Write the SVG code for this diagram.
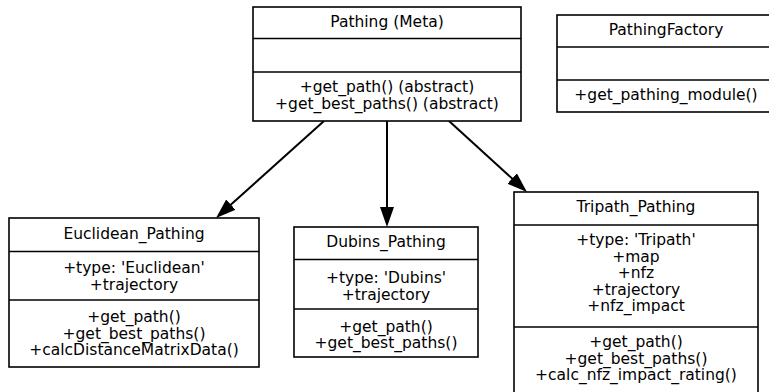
<svg xmlns="http://www.w3.org/2000/svg" width="769" height="392" viewBox="0 0 769 392">
<defs>
<style>
.box{fill:#fff;stroke:#000;stroke-width:1.6}
.div{stroke:#000;stroke-width:1.6}
text{font-family:"DejaVu Sans",sans-serif;font-size:15.5px;fill:#000;text-anchor:middle}
.edge{stroke:#000;stroke-width:2;fill:none}
</style>
<marker id="arr" markerUnits="userSpaceOnUse" markerWidth="20" markerHeight="14" refX="16" refY="7" orient="auto" viewBox="0 0 20 14">
<path d="M0,0 L20,7 L0,14 z" fill="#000"/>
</marker>
</defs>
<rect width="769" height="392" fill="#fff"/>
<g id="edges">
<line class="edge" x1="324" y1="121" x2="219" y2="215.3" marker-end="url(#arr)"/>
<line class="edge" x1="387" y1="121" x2="387" y2="223" marker-end="url(#arr)"/>
<line class="edge" x1="449" y1="121" x2="524" y2="189.3" marker-end="url(#arr)"/>
</g>
<g id="pathing_meta">
<rect class="box" x="253" y="7" width="268" height="114"/>
<line class="div" x1="253" y1="38.5" x2="521" y2="38.5"/>
<line class="div" x1="253" y1="72" x2="521" y2="72"/>
<text x="387" y="27">Pathing (Meta)</text>
<text x="387" y="92">+get_path() (abstract)</text>
<text x="387" y="108.5">+get_best_paths() (abstract)</text>
</g>
<g id="pathing_factory">
<rect class="box" x="557" y="15" width="220" height="97"/>
<line class="div" x1="557" y1="47" x2="777" y2="47"/>
<line class="div" x1="557" y1="80" x2="777" y2="80"/>
<text x="666" y="35">PathingFactory</text>
<text x="666" y="100">+get_pathing_module()</text>
</g>
<g id="euclidean">
<rect class="box" x="9" y="218" width="250" height="149"/>
<line class="div" x1="9" y1="251.5" x2="259" y2="251.5"/>
<line class="div" x1="9" y1="300" x2="259" y2="300"/>
<text x="134" y="238.5">Euclidean_Pathing</text>
<text x="134" y="273">+type: 'Euclidean'</text>
<text x="134" y="289.5">+trajectory</text>
<text x="134" y="322">+get_path()</text>
<text x="134" y="338.5">+get_best_paths()</text>
<text x="134" y="355">+calcDistanceMatrixData()</text>
</g>
<g id="dubins">
<rect class="box" x="294" y="227" width="184" height="130"/>
<line class="div" x1="294" y1="259.5" x2="478" y2="259.5"/>
<line class="div" x1="294" y1="309" x2="478" y2="309"/>
<text x="386" y="247">Dubins_Pathing</text>
<text x="386" y="283">+type: 'Dubins'</text>
<text x="386" y="299.5">+trajectory</text>
<text x="386" y="331.5">+get_path()</text>
<text x="386" y="348">+get_best_paths()</text>
</g>
<g id="tripath">
<rect class="box" x="514" y="192" width="244" height="210"/>
<line class="div" x1="514" y1="225" x2="758" y2="225"/>
<line class="div" x1="514" y1="327" x2="758" y2="327"/>
<text x="636" y="212">Tripath_Pathing</text>
<text x="636" y="245">+type: 'Tripath'</text>
<text x="636" y="261.5">+map</text>
<text x="636" y="278">+nfz</text>
<text x="636" y="294.5">+trajectory</text>
<text x="636" y="311">+nfz_impact</text>
<text x="636" y="347">+get_path()</text>
<text x="636" y="363.5">+get_best_paths()</text>
<text x="636" y="380">+calc_nfz_impact_rating()</text>
</g>
</svg>
